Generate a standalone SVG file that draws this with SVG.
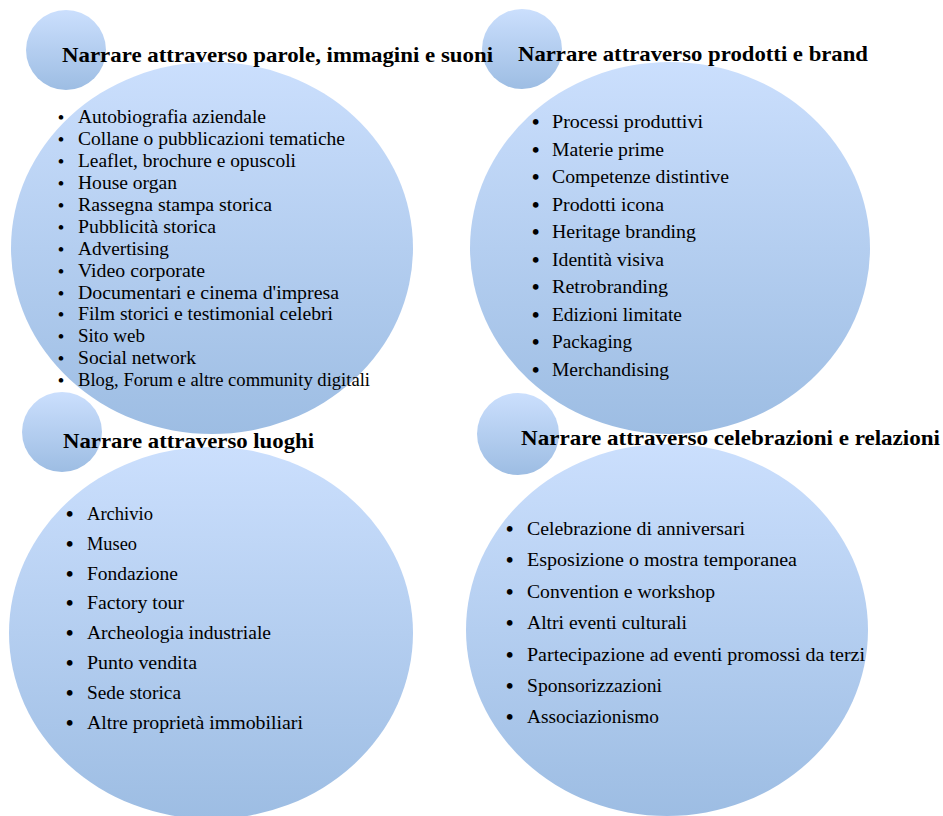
<svg xmlns="http://www.w3.org/2000/svg" width="943" height="816" viewBox="0 0 943 816">
<defs>
<linearGradient id="g" x1="0" y1="0" x2="0" y2="1">
<stop offset="0" stop-color="#cbdffd"/>
<stop offset="1" stop-color="#9dbde3"/>
</linearGradient>
<style>
.big,.small{fill:url(#g);}
.t{font-family:"Liberation Serif","Times New Roman",serif;font-weight:bold;font-size:22px;fill:#000;}
.i{font-family:"Liberation Serif","Times New Roman",serif;font-size:18px;fill:#000;}
.b{font-family:"Liberation Serif","Times New Roman",serif;font-size:21px;font-weight:bold;fill:#000;}
.bs{font-family:"Liberation Serif","Times New Roman",serif;font-size:17px;font-weight:bold;fill:#000;}
</style>
</defs>
<rect width="943" height="816" fill="#fff"/>
<g id="node-prodotti">
<ellipse class="big" cx="670" cy="248" rx="200" ry="186"/>
<circle class="small" cx="522" cy="49" r="40"/>
<text class="t" x="518" y="61" textLength="350" lengthAdjust="spacingAndGlyphs">Narrare attraverso prodotti e brand</text>
<g class="list">
<text class="b" x="532" y="129">•</text><text class="i" x="552" y="128" textLength="151" lengthAdjust="spacingAndGlyphs">Processi produttivi</text>
<text class="b" x="532" y="157">•</text><text class="i" x="552" y="156" textLength="112" lengthAdjust="spacingAndGlyphs">Materie prime</text>
<text class="b" x="532" y="184">•</text><text class="i" x="552" y="183" textLength="177" lengthAdjust="spacingAndGlyphs">Competenze distintive</text>
<text class="b" x="532" y="212">•</text><text class="i" x="552" y="211" textLength="112" lengthAdjust="spacingAndGlyphs">Prodotti icona</text>
<text class="b" x="532" y="239">•</text><text class="i" x="552" y="238" textLength="144" lengthAdjust="spacingAndGlyphs">Heritage branding</text>
<text class="b" x="532" y="267">•</text><text class="i" x="552" y="266" textLength="112" lengthAdjust="spacingAndGlyphs">Identità visiva</text>
<text class="b" x="532" y="294">•</text><text class="i" x="552" y="293" textLength="116" lengthAdjust="spacingAndGlyphs">Retrobranding</text>
<text class="b" x="532" y="322">•</text><text class="i" x="552" y="321" textLength="130" lengthAdjust="spacingAndGlyphs">Edizioni limitate</text>
<text class="b" x="532" y="349">•</text><text class="i" x="552" y="348" textLength="80" lengthAdjust="spacingAndGlyphs">Packaging</text>
<text class="b" x="532" y="377">•</text><text class="i" x="552" y="376" textLength="117" lengthAdjust="spacingAndGlyphs">Merchandising</text>
</g>
</g>
<g id="node-parole">
<ellipse class="big" cx="212" cy="248" rx="201" ry="186"/>
<circle class="small" cx="66" cy="50" r="40"/>
<text class="t" x="62" y="62" textLength="431" lengthAdjust="spacingAndGlyphs">Narrare attraverso parole, immagini e suoni</text>
<g class="list">
<text class="bs" x="58" y="123">•</text><text class="i" x="78" y="123" textLength="188" lengthAdjust="spacingAndGlyphs">Autobiografia aziendale</text>
<text class="bs" x="58" y="145">•</text><text class="i" x="78" y="145" textLength="267" lengthAdjust="spacingAndGlyphs">Collane o pubblicazioni tematiche</text>
<text class="bs" x="58" y="167">•</text><text class="i" x="78" y="167" textLength="218" lengthAdjust="spacingAndGlyphs">Leaflet, brochure e opuscoli</text>
<text class="bs" x="58" y="189">•</text><text class="i" x="78" y="189" textLength="99" lengthAdjust="spacingAndGlyphs">House organ</text>
<text class="bs" x="58" y="211">•</text><text class="i" x="78" y="211" textLength="194" lengthAdjust="spacingAndGlyphs">Rassegna stampa storica</text>
<text class="bs" x="58" y="233">•</text><text class="i" x="78" y="233" textLength="138" lengthAdjust="spacingAndGlyphs">Pubblicità storica</text>
<text class="bs" x="58" y="255">•</text><text class="i" x="78" y="255" textLength="91" lengthAdjust="spacingAndGlyphs">Advertising</text>
<text class="bs" x="58" y="277">•</text><text class="i" x="78" y="277" textLength="127" lengthAdjust="spacingAndGlyphs">Video corporate</text>
<text class="bs" x="58" y="299">•</text><text class="i" x="78" y="299" textLength="261" lengthAdjust="spacingAndGlyphs">Documentari e cinema d'impresa</text>
<text class="bs" x="58" y="320">•</text><text class="i" x="78" y="320" textLength="255" lengthAdjust="spacingAndGlyphs">Film storici e testimonial celebri</text>
<text class="bs" x="58" y="342">•</text><text class="i" x="78" y="342" textLength="67" lengthAdjust="spacingAndGlyphs">Sito web</text>
<text class="bs" x="58" y="364">•</text><text class="i" x="78" y="364" textLength="118" lengthAdjust="spacingAndGlyphs">Social network</text>
<text class="bs" x="58" y="386">•</text><text class="i" x="78" y="386" textLength="292" lengthAdjust="spacingAndGlyphs">Blog, Forum e altre community digitali</text>
</g>
</g>
<g id="node-luoghi">
<ellipse class="big" cx="211" cy="633" rx="202" ry="186"/>
<circle class="small" cx="62" cy="432" r="40"/>
<text class="t" x="63" y="448" textLength="251" lengthAdjust="spacingAndGlyphs">Narrare attraverso luoghi</text>
<g class="list">
<text class="b" x="66" y="521">•</text><text class="i" x="87" y="520" textLength="66" lengthAdjust="spacingAndGlyphs">Archivio</text>
<text class="b" x="66" y="551">•</text><text class="i" x="87" y="550" textLength="50" lengthAdjust="spacingAndGlyphs">Museo</text>
<text class="b" x="66" y="581">•</text><text class="i" x="87" y="580" textLength="91" lengthAdjust="spacingAndGlyphs">Fondazione</text>
<text class="b" x="66" y="610">•</text><text class="i" x="87" y="609" textLength="97" lengthAdjust="spacingAndGlyphs">Factory tour</text>
<text class="b" x="66" y="640">•</text><text class="i" x="87" y="639" textLength="184" lengthAdjust="spacingAndGlyphs">Archeologia industriale</text>
<text class="b" x="66" y="670">•</text><text class="i" x="87" y="669" textLength="110" lengthAdjust="spacingAndGlyphs">Punto vendita</text>
<text class="b" x="66" y="700">•</text><text class="i" x="87" y="699" textLength="94" lengthAdjust="spacingAndGlyphs">Sede storica</text>
<text class="b" x="66" y="730">•</text><text class="i" x="87" y="729" textLength="216" lengthAdjust="spacingAndGlyphs">Altre proprietà immobiliari</text>
</g>
</g>
<g id="node-celebrazioni">
<ellipse class="big" cx="667" cy="630" rx="201" ry="186"/>
<circle class="small" cx="518" cy="434" r="41"/>
<text class="t" x="521" y="445" textLength="419" lengthAdjust="spacingAndGlyphs">Narrare attraverso celebrazioni e relazioni</text>
<g class="list">
<text class="b" x="506" y="536">•</text><text class="i" x="527" y="535" textLength="218" lengthAdjust="spacingAndGlyphs">Celebrazione di anniversari</text>
<text class="b" x="506" y="567">•</text><text class="i" x="527" y="566" textLength="270" lengthAdjust="spacingAndGlyphs">Esposizione o mostra temporanea</text>
<text class="b" x="506" y="599">•</text><text class="i" x="527" y="598" textLength="188" lengthAdjust="spacingAndGlyphs">Convention e workshop</text>
<text class="b" x="506" y="630">•</text><text class="i" x="527" y="629" textLength="160" lengthAdjust="spacingAndGlyphs">Altri eventi culturali</text>
<text class="b" x="506" y="662">•</text><text class="i" x="527" y="661" textLength="338" lengthAdjust="spacingAndGlyphs">Partecipazione ad eventi promossi da terzi</text>
<text class="b" x="506" y="693">•</text><text class="i" x="527" y="692" textLength="135" lengthAdjust="spacingAndGlyphs">Sponsorizzazioni</text>
<text class="b" x="506" y="724">•</text><text class="i" x="527" y="723" textLength="132" lengthAdjust="spacingAndGlyphs">Associazionismo</text>
</g>
</g>
<g id="connectors"></g>
</svg>
